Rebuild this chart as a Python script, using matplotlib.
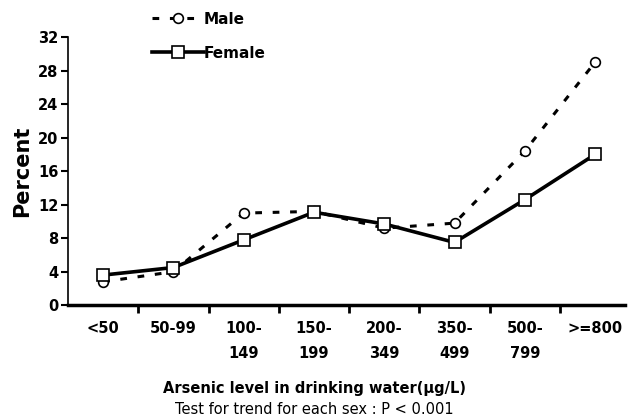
import matplotlib
matplotlib.use("Agg")
import matplotlib.pyplot as plt
import numpy as np

categories = ["<50", "50-99", "100-\n149", "150-\n199", "200-\n349", "350-\n499", "500-\n799", ">=800"]
male = [2.8, 4.0, 11.0, 11.2, 9.2, 9.8, 18.4, 29.0]
female = [3.6, 4.5, 7.8, 11.1, 9.7, 7.5, 12.6, 18.0]
yticks = [0, 4, 8, 12, 16, 20, 24, 28, 32]

fig = plt.figure(figsize=(6.29, 4.17), dpi=100)
ax = fig.add_axes([0.108, 0.268, 0.885, 0.643])
x = np.arange(len(categories))

lm, = ax.plot(x, male, color="black", lw=2.2, ls=(0, (2.2, 3.5)), marker="o",
              ms=7, mfc="white", mec="black", mew=1.2)
lf, = ax.plot(x, female, color="black", lw=2.6, ls="-", marker="s",
              ms=8, mfc="white", mec="black", mew=1.2)

ax.set_xlim(-0.5, 7.42)
ax.set_ylim(0, 32)
ax.set_yticks(yticks)
ax.set_yticklabels([str(v) for v in yticks], fontweight="bold", fontsize=10.5)
ax.set_xticks(x)
ax.set_xticklabels(categories, fontweight="bold", fontsize=10.5, linespacing=1.85)
ax.tick_params(axis="x", which="major", length=0, pad=11)
ax.set_xticks(x[:-1] + 0.5, minor=True)
ax.tick_params(axis="x", which="minor", length=6, width=2, direction="out")
ax.tick_params(axis="y", length=5, width=1.5, direction="out", pad=2)

for s in ["top", "right"]:
    ax.spines[s].set_visible(False)
ax.spines["left"].set_linewidth(1.2)
ax.spines["bottom"].set_linewidth(2.5)

ax.set_ylabel("Percent", fontweight="bold", fontsize=15, labelpad=4)

fig.text(0.5, 1 - 388 / 417, "Arsenic level in drinking water(\u00b5g/L)", ha="center",
         va="center", fontweight="bold", fontsize=10.5)
fig.text(0.5, 1 - 410 / 417, "Test for trend for each sex : P < 0.001", ha="center",
         va="center", fontsize=10.5)

fig.legend([lm, lf], ["Male", "Female"], loc="upper left",
           bbox_to_anchor=(0.22, 1.005), frameon=False,
           handlelength=3.4, handletextpad=0.0, labelspacing=1.25,
           prop={"weight": "bold", "size": 11})

fig.savefig("out.png", dpi=100)
